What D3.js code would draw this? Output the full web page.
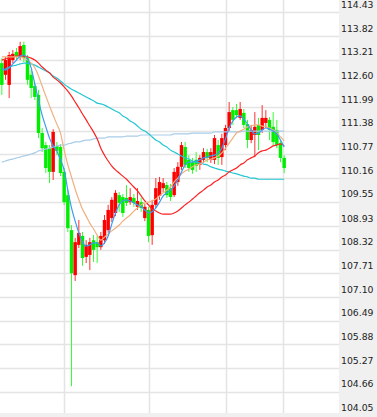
<!DOCTYPE html>
<html><head><meta charset="utf-8">
<script src="https://cdn.jsdelivr.net/npm/d3@7/dist/d3.min.js"></script>
<style>html,body{margin:0;padding:0;background:#fff;}svg{display:block;}</style>
</head><body>
<svg id="chart" width="377" height="417"></svg>
<script>
const opens = [113.12,112.82,112.56,113.20,113.41,113.28,113.59,113.25,112.82,112.53,112.30,111.32,111.01,110.93,110.32,110.99,110.96,110.32,109.72,108.82,107.66,108.44,108.67,108.13,108.18,108.56,108.51,108.38,108.56,108.82,109.13,109.26,109.72,109.67,109.65,109.54,109.65,109.42,109.54,109.13,109.34,108.69,109.47,109.70,109.90,109.98,109.90,109.72,110.06,110.45,110.96,110.63,110.57,110.63,110.50,110.63,110.83,110.63,110.63,111.01,110.70,111.01,111.45,111.91,111.91,111.71,111.84,111.55,111.14,111.27,111.53,111.40,111.58,111.66,111.48,111.40,111.06,110.68];
const highs = [113.25,113.28,113.41,113.46,113.51,113.67,113.67,113.33,112.94,112.61,112.43,111.45,111.09,111.01,111.42,111.09,111.04,110.42,109.85,108.95,108.62,109.08,108.77,108.56,108.62,108.69,108.67,108.77,109.21,109.47,109.67,109.85,109.80,109.75,109.98,109.90,109.75,109.90,109.65,109.49,109.42,109.60,110.16,110.19,110.16,110.06,110.01,110.42,110.57,111.09,111.09,110.75,110.68,110.83,110.75,110.93,110.91,110.93,111.27,111.14,111.30,111.53,112.12,111.99,112.07,112.12,111.94,111.66,111.53,111.86,111.71,112.04,111.91,111.73,111.86,111.66,111.14,110.75];
const lows = [112.30,112.69,112.22,113.12,113.20,113.20,113.15,112.56,112.22,112.17,111.19,110.83,110.29,110.03,110.11,110.75,110.21,109.47,108.77,104.80,107.51,108.36,107.90,107.97,107.79,108.00,107.97,108.31,108.46,108.75,109.03,109.18,109.29,109.16,109.44,109.47,109.42,109.34,109.29,109.05,108.51,108.44,109.39,109.60,109.80,109.65,109.57,109.67,109.96,110.37,110.42,110.32,110.27,110.32,110.37,110.55,110.57,110.55,110.52,110.50,110.50,110.88,111.37,111.53,111.71,111.66,111.45,110.93,111.06,110.70,110.88,111.32,111.45,111.14,111.01,110.93,110.57,110.29];
const closes = [112.56,113.20,113.33,113.36,113.28,113.56,113.25,112.69,112.48,112.25,111.32,110.93,110.42,110.32,111.35,110.86,110.29,109.54,108.87,107.71,108.51,108.75,108.10,108.44,108.51,108.31,108.38,108.67,109.08,109.34,109.60,109.78,109.52,109.26,109.52,109.67,109.52,109.57,109.39,109.42,108.67,109.47,109.90,110.06,110.03,109.72,109.67,110.32,110.45,111.01,110.50,110.42,110.37,110.47,110.68,110.83,110.68,110.83,111.19,110.68,111.19,111.45,111.86,111.66,111.78,111.94,111.53,111.14,111.40,111.48,111.27,111.71,111.71,111.40,111.09,111.01,110.68,110.42];

const ma5 = [113.00,112.94,113.00,113.10,113.20,113.30,113.33,113.23,113.00,112.58,112.17,111.78,111.48,111.19,110.99,110.86,110.63,110.37,109.85,109.39,109.05,108.75,108.51,108.41,108.44,108.49,108.49,108.41,108.49,108.67,108.98,109.26,109.47,109.57,109.60,109.57,109.52,109.47,109.42,109.34,109.26,109.29,109.39,109.54,109.70,109.78,109.85,109.96,110.11,110.32,110.50,110.57,110.57,110.60,110.63,110.68,110.70,110.73,110.75,110.81,110.93,111.17,111.45,111.63,111.73,111.76,111.68,111.55,111.40,111.30,111.32,111.40,111.45,111.42,111.37,111.30,111.14,110.96];
const ma10 = [113.28,113.28,113.28,113.28,113.28,113.28,113.25,113.20,113.12,113.00,112.79,112.53,112.27,112.02,111.78,111.55,111.32,110.88,110.50,110.19,109.88,109.60,109.36,109.18,109.00,108.85,108.69,108.56,108.64,108.72,108.80,108.87,108.95,109.05,109.13,109.21,109.31,109.39,109.47,109.52,109.54,109.57,109.62,109.70,109.78,109.85,109.93,110.06,110.16,110.27,110.34,110.39,110.45,110.50,110.52,110.57,110.63,110.65,110.68,110.73,110.81,110.93,111.06,111.19,111.32,111.37,111.42,111.48,111.50,111.53,111.53,111.50,111.48,111.45,111.40,111.32,111.22,111.12];
const ma20 = [113.20,113.23,113.25,113.28,113.30,113.30,113.30,113.28,113.25,113.20,113.12,113.02,112.94,112.87,112.76,112.69,112.61,112.51,112.40,112.27,112.12,111.97,111.81,111.66,111.50,111.35,111.17,110.93,110.75,110.60,110.47,110.37,110.29,110.21,110.13,110.03,109.93,109.83,109.70,109.57,109.47,109.36,109.31,109.26,109.23,109.23,109.23,109.26,109.31,109.39,109.47,109.54,109.62,109.70,109.78,109.85,109.93,109.98,110.06,110.11,110.19,110.24,110.32,110.37,110.42,110.50,110.55,110.63,110.68,110.73,110.81,110.86,110.88,110.93,110.99,111.01,111.04,110.99];
const ma60 = [112.94,112.97,113.02,113.05,113.07,113.10,113.12,113.12,113.10,113.07,113.02,112.97,112.92,112.87,112.79,112.74,112.66,112.58,112.51,112.45,112.40,112.35,112.30,112.25,112.20,112.15,112.09,112.07,112.04,111.99,111.94,111.89,111.84,111.76,111.71,111.63,111.58,111.50,111.42,111.37,111.30,111.22,111.14,111.09,111.01,110.96,110.88,110.83,110.78,110.73,110.68,110.65,110.60,110.57,110.55,110.52,110.50,110.45,110.42,110.39,110.37,110.34,110.32,110.29,110.27,110.24,110.21,110.19,110.16,110.16,110.13,110.13,110.13,110.13,110.13,110.13,110.13,110.13];
const ma120 = [110.57,110.60,110.63,110.65,110.68,110.70,110.73,110.75,110.78,110.81,110.86,110.88,110.91,110.93,110.96,110.99,111.01,111.01,111.04,111.06,111.09,111.09,111.12,111.14,111.14,111.17,111.19,111.19,111.19,111.22,111.22,111.22,111.22,111.22,111.24,111.24,111.24,111.24,111.27,111.27,111.27,111.27,111.27,111.27,111.27,111.27,111.27,111.30,111.30,111.30,111.30,111.30,111.32,111.32,111.32,111.32,111.32,111.32,111.35,111.35,111.35,111.35,111.35,111.35,111.35,111.35,111.37,111.37,111.37,111.37,111.37,111.37,111.37,111.37,111.37,111.37,111.37,111.37];

const tickLabels = ["114.43","113.82","113.21","112.60","111.99","111.38","110.77","110.16","109.55","108.93","108.32","107.71","107.10","106.49","105.88","105.27","104.66","104.05"];
const dividerIdx = [17, 40, 61, 76.6];

const W = 377, H = 417, plotRight = 339, plotBottom = 413;
const svg = d3.select("#chart");
const N = opens.length;
const idx = d3.range(N);

const y = d3.scaleLinear().domain([104.05, 114.43]).range([415.3, 12.3]);
const x = d3.scaleBand().domain(idx).range([0, 286]).paddingInner(0.06).paddingOuter(0.03);
const cx = i => x(i) + x.bandwidth() / 2;
const xl = d3.scaleLinear().domain([0, N - 1]).range([cx(0), cx(N - 1)]);

svg.append("rect").attr("width", W).attr("height", H).attr("fill", "#fff");

// grid
const ticks = tickLabels.map(Number);
svg.append("g").selectAll("line").data(ticks).join("line")
  .attr("x1", 0).attr("x2", plotRight)
  .attr("y1", d => Math.round(y(d)) + 0.5).attr("y2", d => Math.round(y(d)) + 0.5)
  .attr("stroke", "#e4e4e4").attr("stroke-width", 1.5);
svg.append("g").selectAll("line").data(dividerIdx).join("line")
  .attr("x1", d => Math.round(xl(d)) + 0.5).attr("x2", d => Math.round(xl(d)) + 0.5)
  .attr("y1", 0).attr("y2", plotBottom)
  .attr("stroke", "#e4e4e4").attr("stroke-width", 1.5);

// candles
const up = i => closes[i] >= opens[i];
const col = i => up(i) ? "#ff0000" : "#00ee00";
const wickCol = i => up(i) ? "#ff3030" : "#33ff33";
const cg = svg.append("g");
cg.selectAll("line").data(idx).join("line")
  .attr("x1", i => cx(i)).attr("x2", i => cx(i))
  .attr("y1", i => y(highs[i])).attr("y2", i => y(lows[i]))
  .attr("stroke", wickCol).attr("stroke-width", 1);
cg.selectAll("rect").data(idx).join("rect")
  .attr("x", i => x(i)).attr("width", x.bandwidth())
  .attr("y", i => y(Math.max(opens[i], closes[i])))
  .attr("height", i => Math.max(1, Math.abs(y(opens[i]) - y(closes[i]))))
  .attr("fill", col);

// moving averages
const series = [
  {v: ma120, c: "#a9cde8", w: 1.2},
  {v: ma60, c: "#22c6d4", w: 1.2},
  {v: ma20, c: "#ff2020", w: 1.2},
  {v: ma10, c: "#f0b080", w: 1.2},
  {v: ma5, c: "#3a9cf5", w: 1.2}
];
const line = d3.line().x((d, i) => cx(i)).y(d => y(d)).curve(d3.curveMonotoneX);
svg.append("g").selectAll("path").data(series).join("path")
  .attr("d", s => line(s.v)).attr("fill", "none")
  .attr("stroke", s => s.c).attr("stroke-width", s => s.w);

// axis panel
svg.append("rect").attr("x", plotRight).attr("y", 0).attr("width", W - plotRight).attr("height", H).attr("fill", "#f0f0f0");
svg.append("rect").attr("x", 0).attr("y", plotBottom).attr("width", W).attr("height", H - plotBottom).attr("fill", "#f0f0f0");
svg.append("g").selectAll("text").data(tickLabels).join("text")
  .attr("x", 341).attr("y", d => y(+d) - 4.3)
  .attr("font-family", "DejaVu Sans, Verdana, sans-serif").attr("font-size", 9.3)
  .attr("fill", "#222").text(d => d);
</script>
</body></html>
